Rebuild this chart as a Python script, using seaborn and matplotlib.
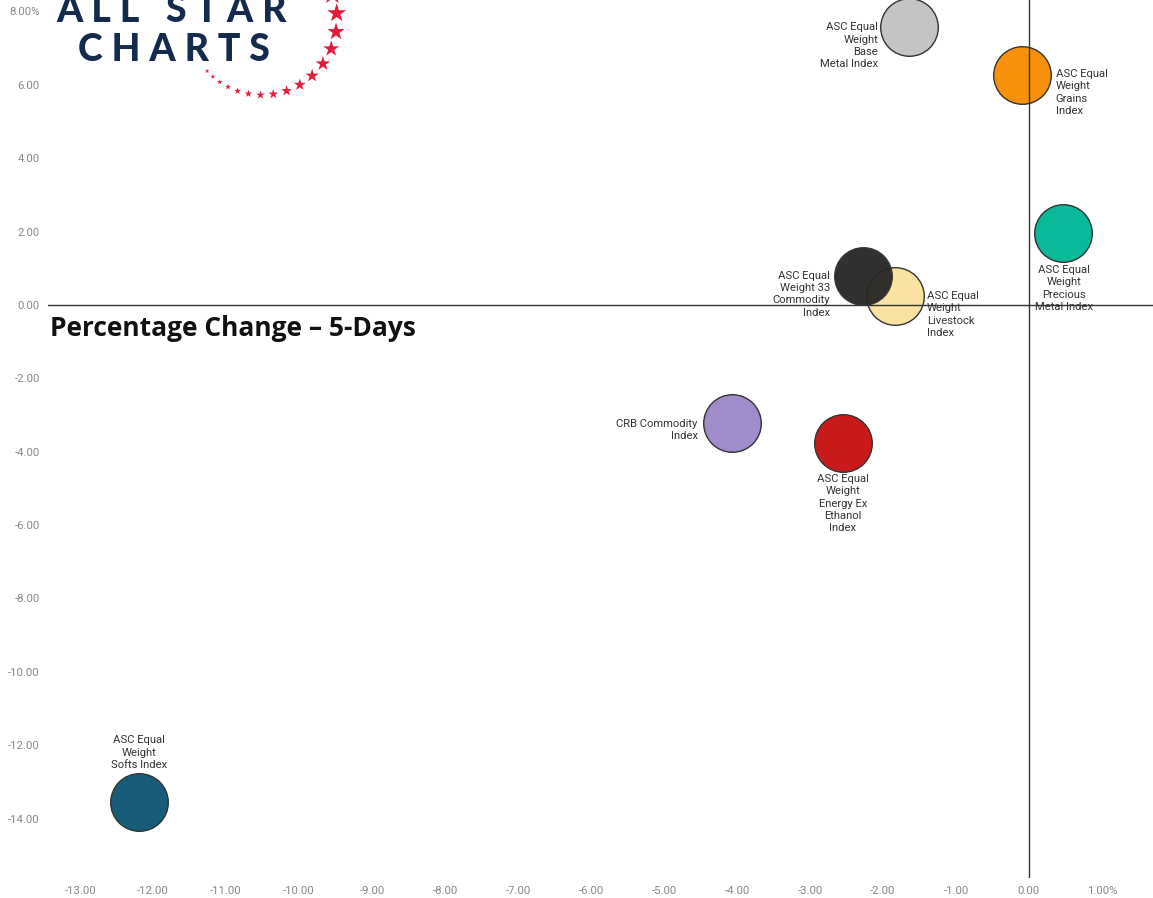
import numpy as np
import pandas as pd
import matplotlib
matplotlib.use('Agg')
import matplotlib.pyplot as plt
from matplotlib.ticker import FixedLocator, FuncFormatter
import seaborn as sns

sns.set_style("white")
plt.rcParams['font.family'] = ['Roboto', 'DejaVu Sans']
plt.rcParams['axes.unicode_minus'] = False

# data: 5-day % change (x) vs 1-month-ish % change (y)
names = [
    "ASC Equal\nWeight\nBase\nMetal Index",
    "ASC Equal\nWeight\nGrains\nIndex",
    "ASC Equal\nWeight\nPrecious\nMetal Index",
    "ASC Equal\nWeight 33\nCommodity\nIndex",
    "ASC Equal\nWeight\nLivestock\nIndex",
    "CRB Commodity\nIndex",
    "ASC Equal\nWeight\nEnergy Ex\nEthanol\nIndex",
    "ASC Equal\nWeight\nSofts Index",
]
x_vals = [-1.64, -0.10, 0.47, -2.27, -1.84, -4.07, -2.55, -12.19]
y_vals = [7.57, 6.27, 1.96, 0.80, 0.24, -3.22, -3.76, -13.55]
colors = ["#c4c4c4", "#f7900a", "#0bb99a", "#262626", "#fbe2a0",
          "#a08bcb", "#c91b1b", "#175d79"]

x_ticks = list(range(-13, 2))
y_ticks = list(range(-14, 10, 2))

# label placement: (ha, va, dx, dy) in pixels
label_style = [
    ("right", "top", -31, 5),
    ("left", "top", 34, 6),
    ("center", "top", 1, -32),
    ("right", "top", -33, 5),
    ("left", "top", 32, 5),
    ("right", "top", -34, 4),
    ("center", "top", 0, -31),
    ("center", "bottom", 0, 32),
]

df = pd.DataFrame({"name": names, "x": x_vals, "y": y_vals})
W, H = 1153, 898
fig = plt.figure(figsize=(W / 100, H / 100), dpi=100)
ax = fig.add_axes([48 / W, 20 / H, 1105 / W, 878 / H])

# draw in order so the 33-commodity bubble sits over livestock
order = [0, 1, 2, 4, 3, 5, 6, 7]
for i in order:
    sns.scatterplot(data=df.iloc[[i]], x="x", y="y", s=1720, color=colors[i],
                    edgecolor="#333333", linewidth=1.0, alpha=0.95 if i == 3 else 1,
                    ax=ax, legend=False, zorder=2)

ax.axhline(0, color="#333333", lw=1.0, zorder=3)
ax.axvline(0, color="#333333", lw=1.0, zorder=3)

for i, (nm, xv, yv) in enumerate(zip(names, x_vals, y_vals)):
    ha, va, dx, dy = label_style[i]
    ax.annotate(nm, (xv, yv), xytext=(dx, dy), textcoords="offset pixels",
                ha=ha, va=va, multialignment=ha, fontsize=8.1, color="#333333",
                linespacing=1.3, zorder=4)

ax.set_xlim(-13.44, 1.70)
ax.set_ylim(-15.62, 8.31)
ax.xaxis.set_major_locator(FixedLocator(x_ticks))
ax.yaxis.set_major_locator(FixedLocator(y_ticks))
ax.xaxis.set_major_formatter(FuncFormatter(lambda v, p: f"{v:.2f}%" if v == 1 else f"{v:.2f}"))
ax.yaxis.set_major_formatter(FuncFormatter(lambda v, p: f"{v:.2f}%" if v == 8 else f"{v:.2f}"))
ax.tick_params(axis="both", length=0, labelsize=8.2, labelcolor="#888888", pad=6)
for s in ax.spines.values():
    s.set_visible(False)
ax.set_xlabel("")
ax.set_ylabel("")

fig.text(50 / W, 1 - 328 / H, "Percentage Change \u2013 5-Days", fontsize=19,
         fontweight="bold", family=["Open Sans", "DejaVu Sans"], color="#111111",
         va="center", ha="left")

# logo overlay
lax = fig.add_axes([0, 0, 1, 1], zorder=5)
lax.set_xlim(0, W)
lax.set_ylim(H, 0)
lax.axis("off")
navy = "#142b4e"
lax.text(172, 22, "A L L   S T A R", fontsize=27, fontweight="black",
         family=["Lato", "DejaVu Sans"], color=navy, ha="center", va="baseline")
lax.text(174, 61, "C H A R T S", fontsize=27, fontweight="black",
         family=["Lato", "DejaVu Sans"], color=navy, ha="center", va="baseline")
t = np.linspace(0, 1, 16)
ang = np.deg2rad(137 - 157 * (0.55 * t + 0.45 * t ** 2))
sx = 262 + 75 * np.cos(ang)
sy = 20 + 75 * np.sin(ang)
ss = (3.5 + 12 * t ** 1.5) ** 2
lax.scatter(sx, sy, s=ss, marker="*", color="#e31b3b", linewidths=0)

fig.savefig("out.png", dpi=100, facecolor="white")
